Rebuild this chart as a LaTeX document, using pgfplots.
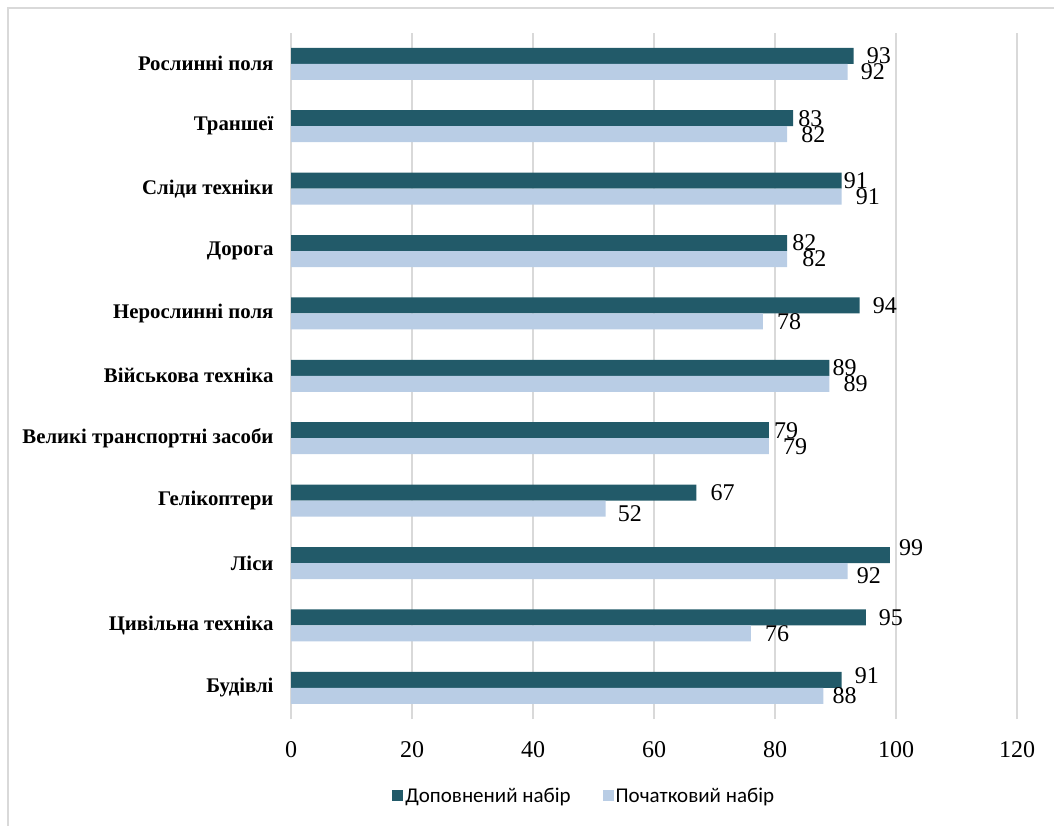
\documentclass[border=0pt]{standalone}
\usepackage{pgfplots}
\pgfplotsset{compat=1.18}
\usepackage{pgfplotstable}
\usepackage{fontspec}
\setmainfont{Liberation Serif}
\newfontfamily\legendfont{Carlito}

\definecolor{dopcol}{HTML}{225A69}
\definecolor{pochcol}{HTML}{B9CDE5}
\definecolor{gridgray}{HTML}{D9D9D9}

% row: category position (0 = bottom); dgap/pgap, dshift/pshift: label offsets in pt
\pgfplotstableread{
row dop poch dgap pgap dshift pshift
10  93  92   13   13   0      0
9   83  82   5    14   0      0
8   91  91   2    14   0      0
7   82  82   5    15   0      0
6   94  78   13   14   0      0
5   89  89   3    14   0      0
4   79  79   5    14   0      0
3   67  52   14   12   0      -5
2   99  92   9    9    7      -5
1   95  76   13   14   0      0
0   91  88   13   9    4      0
}\results

\begin{document}
\begin{tikzpicture}
\useasboundingbox (0,0) rectangle (1054pt,-826pt);
\draw[gridgray, line width=1.3pt] (8pt,-826pt) -- (8pt,-8pt) -- (1054pt,-8pt);
\begin{axis}[
  at={(291pt,-719pt)}, anchor=south west,
  scale only axis, width=726pt, height=686.4pt,
  xmin=0, xmax=120, ymin=-0.5, ymax=10.5,
  clip=false,
  axis line style={draw=none},
  major tick length=0pt,
  xtick={0,20,...,120},
  xmajorgrids, grid style={gridgray, line width=1.5pt},
  ytick={0,...,10},
  yticklabels={Будівлі, Цивільна техніка, Ліси, Гелікоптери, Великі транспортні засоби, Військова техніка, Нерослинні поля, Дорога, Сліди техніки, Траншеї, Рослинні поля},
  /pgf/number format/assume math mode=true,
  xticklabel style={font=\fontsize{24}{24}\selectfont, yshift=-19pt},
  yticklabel style={font=\bfseries\fontsize{20.8}{21}\selectfont, xshift=-14pt},
  legend columns=2,
  legend style={draw=none, fill=none, at={(0.404,-0.112)}, anchor=center,
    font=\legendfont\fontsize{21}{21}\selectfont,
    nodes={inner sep=2pt},
    /tikz/every even column/.append style={column sep=30pt}},
]
\addplot[xbar, bar width=16pt, bar shift=0pt, fill=dopcol, draw=none,
  legend image code/.code={\fill[dopcol] (0pt,-5.5pt) rectangle (11pt,5.5pt);},
  nodes near coords,
  visualization depends on={\thisrow{dgap} \as \lgap},
  visualization depends on={\thisrow{dshift} \as \lshift},
  nodes near coords style={anchor=west, inner sep=0pt, xshift=\lgap pt, yshift=\lshift pt,
    text=black, font=\fontsize{24}{24}\selectfont}]
  table[x=dop, y expr=\thisrow{row}+0.1282] {\results};
\addlegendentry{Доповнений набір}
\addplot[xbar, bar width=16pt, bar shift=0pt, fill=pochcol, draw=none,
  legend image code/.code={\fill[pochcol] (0pt,-5.5pt) rectangle (11pt,5.5pt);},
  nodes near coords,
  visualization depends on={\thisrow{pgap} \as \lgap},
  visualization depends on={\thisrow{pshift} \as \lshift},
  nodes near coords style={anchor=west, inner sep=0pt, xshift=\lgap pt, yshift=\lshift pt,
    text=black, font=\fontsize{24}{24}\selectfont}]
  table[x=poch, y expr=\thisrow{row}-0.1282] {\results};
\addlegendentry{Початковий набір}
\end{axis}
\end{tikzpicture}
\end{document}
